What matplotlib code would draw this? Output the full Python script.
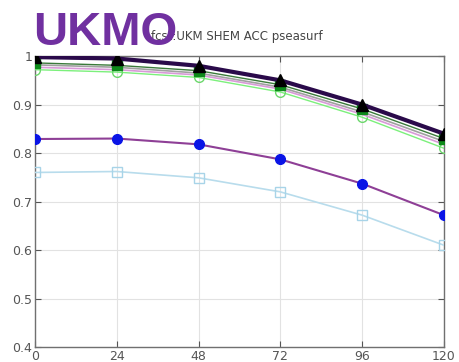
import matplotlib.pyplot as plt

# forecast lead time (hours)
lead = [0, 24, 48, 72, 96, 120]

# ACC values
acc_black = [0.998, 0.995, 0.980, 0.950, 0.900, 0.840]
acc_green = [0.986, 0.981, 0.970, 0.941, 0.891, 0.830]
acc_grey = [0.982, 0.977, 0.965, 0.936, 0.885, 0.824]
acc_pink = [0.977, 0.972, 0.961, 0.932, 0.880, 0.818]
acc_lgreen = [0.972, 0.967, 0.956, 0.926, 0.874, 0.810]
acc_blue = [0.829, 0.830, 0.818, 0.787, 0.737, 0.672]
acc_lblue = [0.760, 0.762, 0.749, 0.720, 0.672, 0.610]

yticks = [0.4, 0.5, 0.6, 0.7, 0.8, 0.9, 1]
ylabels = ['0.4', '0.5', '0.6', '0.7', '0.8', '0.9', '1']

fig = plt.figure(figsize=(4.59, 3.62), dpi=100)
ax = fig.add_axes([0.0763, 0.0414, 0.8907, 0.8036])

ax.plot(lead, acc_lblue, color='#b8dcec', lw=1.2, marker='s', ms=7,
        mfc='none', mec='#a8d4e8', mew=1.0, zorder=3)
ax.plot(lead, acc_blue, color='#8e3f96', lw=1.5, marker='o', ms=7,
        mfc='#0a14e6', mec='#0a14e6', zorder=4)
ax.plot(lead, acc_lgreen, color='#7cf07c', lw=1.0, marker='o', ms=7,
        mfc='none', mec='#6cd86c', mew=1.0, zorder=3)
ax.plot(lead, acc_pink, color='#d89ad8', lw=1.2, zorder=3)
ax.plot(lead, acc_grey, color='#a0a0a0', lw=1.2, zorder=3)
ax.plot(lead, acc_green, color='#3a7a3a', lw=1.0, marker='s', ms=7,
        mfc='#0d8a1a', mec='#0d8a1a', zorder=4)
ax.plot(lead, acc_black, color='#2a0a4a', lw=3.0, marker='^', ms=9,
        mfc='black', mec='black', zorder=5)

ax.set_xlim(0, 120)
ax.set_ylim(0.4, 1.0)
ax.set_xticks(lead)
ax.set_yticks(yticks)
ax.set_yticklabels(ylabels)
ax.grid(True, color='#e2e2e2', lw=0.8)
ax.set_axisbelow(True)
ax.tick_params(direction='in', length=4, labelsize=9, colors='#555555',
               top=True, right=True, pad=2)
for s in ax.spines.values():
    s.set_color('#707070')
    s.set_linewidth(1.0)

fig.text(0.515, 0.898, 'fcst:UKM SHEM ACC pseasurf', fontsize=8.5,
         color='#444444', ha='center', va='center')
fig.text(0.072, 0.876, 'UKMO', fontsize=34, fontweight='bold',
         family='Liberation Sans', color='#7030a0', ha='left', va='baseline')

fig.savefig('out.png', dpi=100)
